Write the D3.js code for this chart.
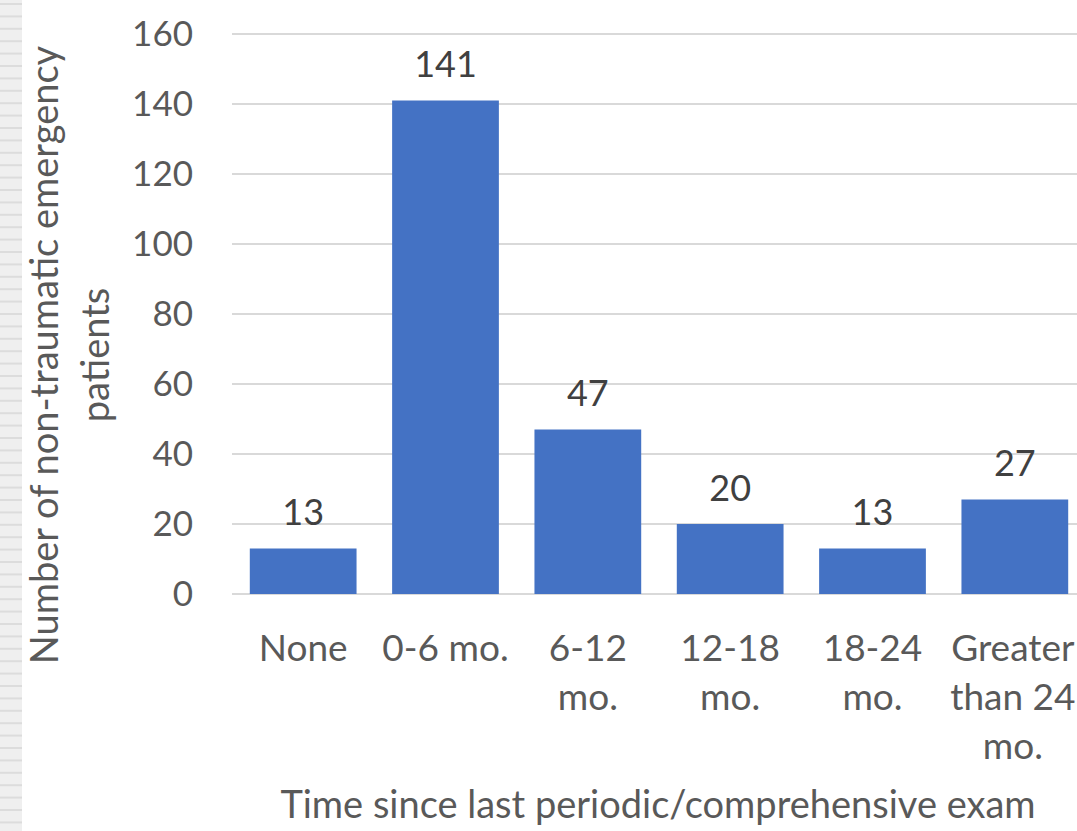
<!DOCTYPE html>
<html lang="en">
<head>
<meta charset="UTF-8">
<title>Time since last exam</title>
<script src="https://d3js.org/d3.v7.min.js"></script>
<style>
  body { margin: 0; background: #fff; }
  text { font-family: Lato, "Open Sans", sans-serif; }
</style>
</head>
<body>
<svg width="1077" height="831"></svg>
<script>
const categories = ["None", "0-6 mo.", "6-12 mo.", "12-18 mo.", "18-24 mo.", "Greater than 24 mo."];
const categoryLines = [["None"], ["0-6 mo."], ["6-12", "mo."], ["12-18", "mo."], ["18-24", "mo."], ["Greater", "than 24", "mo."]];
const patients = [13, 141, 47, 20, 13, 27];
const yTicks = [0, 20, 40, 60, 80, 100, 120, 140, 160];
const yTitle = ["Number of non-traumatic emergency", "patients"];
const xTitle = "Time since last periodic/comprehensive exam";

const svg = d3.select("svg");

// grey ruler strip on the left edge
svg.append("rect").attr("x", 0).attr("y", 0).attr("width", 22).attr("height", 831).attr("fill", "#efefef");
svg.append("g").selectAll("line")
    .data(d3.range(4, 831, 12.4))
    .enter().append("line")
    .attr("x1", 0).attr("x2", 22)
    .attr("y1", d => d).attr("y2", d => d)
    .attr("stroke", "#dcdcdc").attr("stroke-width", 2);

const x = d3.scaleBand()
    .domain(categories)
    .range([232, 1086])
    .paddingInner(0.25)
    .paddingOuter(0.125);

const y = d3.scaleLinear()
    .domain([0, 160])
    .range([594, 34]);

// gridlines
svg.append("g").selectAll("line")
    .data(yTicks)
    .enter().append("line")
    .attr("x1", 232).attr("x2", 1077)
    .attr("y1", d => y(d)).attr("y2", d => y(d))
    .attr("stroke", "#d9d9d9").attr("stroke-width", 2);

// y tick labels
svg.append("g").selectAll("text")
    .data(yTicks)
    .enter().append("text")
    .attr("x", 193)
    .attr("y", d => y(d))
    .attr("dy", "0.35em")
    .attr("text-anchor", "end")
    .attr("font-size", 35)
    .attr("fill", "#595959")
    .text(d => d);

// bars
svg.append("g").selectAll("rect")
    .data(patients)
    .enter().append("rect")
    .attr("x", (d, i) => x(categories[i]))
    .attr("y", d => y(d))
    .attr("width", x.bandwidth())
    .attr("height", d => y(0) - y(d))
    .attr("fill", "#4472c4");

// value labels
svg.append("g").selectAll("text")
    .data(patients)
    .enter().append("text")
    .attr("x", (d, i) => x(categories[i]) + x.bandwidth() / 2)
    .attr("y", d => y(d) - 36)
    .attr("dy", "0.35em")
    .attr("text-anchor", "middle")
    .attr("font-size", 36)
    .attr("fill", "#404040")
    .text(d => d);

// category labels
const cat = svg.append("g").selectAll("text")
    .data(categoryLines)
    .enter().append("text")
    .attr("text-anchor", "middle")
    .attr("font-size", 37)
    .attr("fill", "#595959");
cat.selectAll("tspan")
    .data((d, i) => d.map(s => ({ s, i })))
    .enter().append("tspan")
    .attr("x", d => x(categories[d.i]) + x.bandwidth() / 2 - (d.i === 5 ? 2 : 0))
    .attr("y", (d, j) => 661 + j * 49)
    .text(d => d.s);

// axis titles
svg.append("text")
    .attr("x", 658).attr("y", 818)
    .attr("text-anchor", "middle")
    .attr("font-size", 38)
    .attr("fill", "#595959")
    .text(xTitle);

const yt = svg.append("text")
    .attr("transform", "translate(0,355) rotate(-90)")
    .attr("text-anchor", "middle")
    .attr("font-size", 38)
    .attr("fill", "#595959");
yt.selectAll("tspan")
    .data(yTitle)
    .enter().append("tspan")
    .attr("x", 0)
    .attr("y", (d, i) => 58 + i * 51)
    .text(d => d);
</script>
</body>
</html>
